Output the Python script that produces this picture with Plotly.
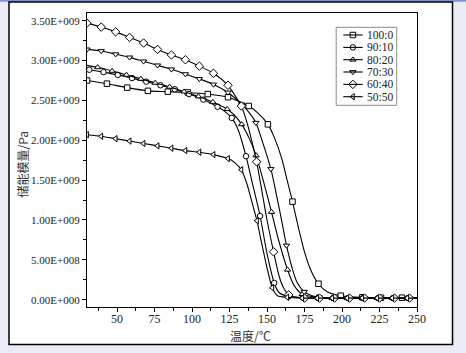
import plotly.graph_objects as go

# ---------------- data (temperature in °C, storage modulus in 1e9 Pa) ----------------
labels = ["100:0", "90:10", "80:20", "70:30", "60:40", "50:50"]
symbols = ["square", "circle", "triangle-up", "triangle-down", "diamond", "triangle-left"]

T_100_0 = [30, 43.3, 56.8, 70.6, 83.9, 97.2, 110.5, 124, 137.8, 144, 150.6, 155, 160, 163, 167, 171, 175, 179, 184.3, 190, 199.2, 213.6, 226, 240, 250]
E_100_0 = [2.75, 2.71, 2.66, 2.62, 2.61, 2.60, 2.58, 2.54, 2.43, 2.34, 2.20, 2.03, 1.76, 1.53, 1.23, 0.90, 0.60, 0.38, 0.20, 0.10, 0.05, 0.03, 0.025, 0.025, 0.025]
M_100_0 = [1, 1, 1, 1, 1, 1, 1, 1, 1, 0, 1, 0, 0, 0, 1, 0, 0, 0, 1, 0, 1, 1, 1, 1, 0]

T_90_10 = [30, 31.5, 41, 50.5, 60, 69.5, 79, 88.5, 98, 107.5, 117, 122, 126.5, 131, 136, 140, 145.4, 150, 154.8, 158, 164.3, 174, 184, 194, 204, 214, 224, 234, 244, 250]
E_90_10 = [2.89, 2.885, 2.855, 2.82, 2.78, 2.735, 2.69, 2.64, 2.58, 2.51, 2.42, 2.36, 2.28, 2.12, 1.80, 1.48, 1.05, 0.58, 0.21, 0.09, 0.04, 0.025, 0.02, 0.02, 0.02, 0.02, 0.02, 0.02, 0.02, 0.02]
M_90_10 = [0, 1, 1, 1, 1, 1, 1, 1, 1, 1, 1, 0, 1, 0, 1, 0, 1, 0, 1, 0, 1, 1, 1, 1, 1, 1, 1, 1, 1, 0]

T_80_20 = [30, 37.1, 46.7, 56.3, 65.9, 75.5, 85.1, 94.7, 104.3, 113.9, 123.5, 128, 133.1, 138, 142.7, 148, 153, 158, 163.7, 168, 173.5, 183.5, 193.5, 203.5, 213.5, 223.5, 233.5, 243.5, 250]
E_80_20 = [2.94, 2.915, 2.87, 2.82, 2.77, 2.72, 2.67, 2.61, 2.55, 2.48, 2.39, 2.32, 2.20, 2.03, 1.81, 1.46, 1.10, 0.73, 0.376, 0.18, 0.07, 0.03, 0.02, 0.02, 0.02, 0.02, 0.02, 0.02, 0.02]
M_80_20 = [0, 1, 1, 1, 1, 1, 1, 1, 1, 1, 1, 0, 1, 0, 1, 0, 1, 0, 1, 0, 1, 1, 1, 1, 1, 1, 1, 1, 0]

T_70_30 = [30, 39.5, 49.1, 58.4, 67.7, 77, 86.3, 95.6, 104.9, 114.3, 124, 133.2, 138, 142.6, 147, 152.6, 157, 160, 163, 167, 170, 174.8, 180, 185, 195, 205, 215, 225, 235, 245, 250]
E_70_30 = [3.14, 3.12, 3.08, 3.04, 2.99, 2.94, 2.89, 2.83, 2.77, 2.70, 2.60, 2.45, 2.35, 2.22, 1.98, 1.64, 1.25, 0.97, 0.68, 0.38, 0.22, 0.10, 0.05, 0.03, 0.02, 0.02, 0.02, 0.02, 0.02, 0.02, 0.02]
M_70_30 = [1, 1, 1, 1, 1, 1, 1, 1, 1, 1, 1, 1, 0, 1, 0, 1, 0, 0, 1, 0, 0, 1, 0, 1, 1, 1, 1, 1, 1, 1, 0]

T_60_40 = [30, 39.5, 49.1, 58.4, 67.7, 77, 86.3, 95.6, 104.9, 114.3, 124, 128, 132.9, 137, 140, 143.1, 147, 150, 154.4, 158, 161, 164.5, 170, 175, 185, 195, 205, 215, 225, 235, 245, 250]
E_60_40 = [3.47, 3.42, 3.36, 3.29, 3.22, 3.14, 3.07, 3.01, 2.93, 2.84, 2.69, 2.58, 2.43, 2.20, 1.98, 1.73, 1.32, 1.00, 0.60, 0.30, 0.15, 0.06, 0.03, 0.02, 0.02, 0.02, 0.02, 0.02, 0.02, 0.02, 0.02, 0.02]
M_60_40 = [1, 1, 1, 1, 1, 1, 1, 1, 1, 1, 1, 0, 1, 0, 0, 1, 0, 0, 1, 0, 0, 1, 0, 1, 1, 1, 1, 1, 1, 1, 1, 0]

T_50_50 = [30, 39.5, 49.1, 58.4, 67.7, 77, 86.3, 95.6, 104.9, 114.3, 124, 128.5, 132.9, 137, 140, 143.3, 147, 150, 153.5, 157, 163.5, 173.5, 183.5, 193.5, 203.5, 213.5, 223.5, 233.5, 243.5, 250]
E_50_50 = [2.07, 2.05, 2.02, 1.99, 1.96, 1.93, 1.90, 1.87, 1.85, 1.82, 1.77, 1.72, 1.63, 1.43, 1.22, 0.99, 0.66, 0.40, 0.15, 0.05, 0.03, 0.02, 0.02, 0.02, 0.02, 0.02, 0.02, 0.02, 0.02, 0.02]
M_50_50 = [1, 1, 1, 1, 1, 1, 1, 1, 1, 1, 1, 0, 1, 0, 0, 1, 0, 0, 1, 0, 1, 1, 1, 1, 1, 1, 1, 1, 1, 0]

y_tickvals = [0, 0.5, 1.0, 1.5, 2.0, 2.5, 3.0, 3.5]
y_ticktext = ["0.00E+000", "5.00E+008", "1.00E+009", "1.50E+009", "2.00E+009", "2.50E+009", "3.00E+009", "3.50E+009"]
x_tickvals = [50, 75, 100, 125, 150, 175, 200, 225, 250]
x_ticktext = ["50", "75", "100", "125", "150", "175", "200", "225", "250"]

series = [
    (T_100_0, E_100_0, M_100_0),
    (T_90_10, E_90_10, M_90_10),
    (T_80_20, E_80_20, M_80_20),
    (T_70_30, E_70_30, M_70_30),
    (T_60_40, E_60_40, M_60_40),
    (T_50_50, E_50_50, M_50_50),
]

# ---------------- layout geometry (pixels) ----------------
W, H = 466, 353
L, R, Tm, B = 87, 49, 13, 46
PW, PH = W - L - R, H - Tm - B
SERIF = "Liberation Serif"
CJK = "Noto Sans CJK SC"


def px(x):
    return (x - L) / PW


def py(y):
    return (H - B - y) / PH


def msize(sym):
    return 6.5 if sym == "diamond" else 5.5


fig = go.Figure()

for (t, e, m), lab, sym in zip(series, labels, symbols):
    fig.add_trace(go.Scatter(
        x=t, y=e, mode="lines", line=dict(color="black", width=1.1, shape="spline", smoothing=0.7),
        showlegend=False, hoverinfo="skip"))
    mt = [ti for ti, mi in zip(t, m) if mi]
    me = [ei for ei, mi in zip(e, m) if mi]
    fig.add_trace(go.Scatter(
        x=mt, y=me, mode="markers",
        marker=dict(symbol=sym, size=msize(sym), color="white", line=dict(color="black", width=1)),
        showlegend=False, hoverinfo="skip"))

# ---------------- custom legend on a pixel-coordinate overlay axis ----------------
leg_y = [35.0, 47.4, 59.7, 72.0, 84.4, 96.7]
shapes = []
annotations = []
for yc, lab, sym in zip(leg_y, labels, symbols):
    shapes.append(dict(type="line", xref="x2", yref="y2", x0=343.3, x1=362.7, y0=yc, y1=yc,
                       line=dict(color="black", width=1.1), layer="above"))
    annotations.append(dict(xref="x2", yref="y2", x=365.0, y=yc, text=lab, showarrow=False,
                            xanchor="left", yanchor="middle",
                            font=dict(family=SERIF, size=11.5, color="#222")))
    fig.add_trace(go.Scatter(
        x=[352.9], y=[yc], xaxis="x2", yaxis="y2", mode="markers",
        marker=dict(symbol=sym, size=msize(sym), color="white", line=dict(color="black", width=1)),
        showlegend=False, hoverinfo="skip"))

shapes.append(dict(type="rect", xref="x2", yref="y2", x0=336.2, x1=396.7, y0=27.3, y1=105.3,
                   line=dict(color="#8a8a8a", width=1), fillcolor="rgba(0,0,0,0)", layer="above"))

# outer white frame and top strip
shapes.insert(0, dict(type="rect", xref="paper", yref="paper", x0=px(9), x1=px(452.5), y0=py(344.5), y1=py(2),
                      line=dict(color="black", width=1.5), fillcolor="white", layer="below"))
shapes.insert(0, dict(type="rect", xref="paper", yref="paper", x0=px(-2), x1=px(468), y0=py(1.8), y1=py(-2),
                      line=dict(width=0), fillcolor="#7f8fd4", layer="below"))

# axis titles
annotations.append(dict(xref="paper", yref="paper", x=px(250), y=py(335.5), text="温度/℃", showarrow=False,
                        xanchor="center", yanchor="middle", font=dict(family=CJK, size=12, color="#333")))
annotations.append(dict(xref="paper", yref="paper", x=px(21.5), y=py(165), text="储能模量/Pa", showarrow=False,
                        textangle=-90, xanchor="center", yanchor="middle",
                        font=dict(family=CJK, size=12, color="#333")))

fig.update_layout(
    width=W, height=H,
    margin=dict(l=L, r=R, t=Tm, b=B, pad=0),
    paper_bgcolor="#e9ecf7",
    plot_bgcolor="white",
    showlegend=False,
    xaxis=dict(range=[30, 250], showline=True, linecolor="black", linewidth=1.3, mirror=True,
               ticks="outside", ticklen=4, tickwidth=1, tickcolor="black", ticklabelstandoff=-4,
               tickvals=x_tickvals, ticktext=x_ticktext, showgrid=False, zeroline=False,
               tickfont=dict(family=SERIF, size=12, color="#222"),
               minor=dict(ticks="outside", ticklen=2.5, tickwidth=1, tickcolor="black", dtick=12.5, tick0=37.5)),
    yaxis=dict(range=[-0.0916, 3.5966], showline=True, linecolor="black", linewidth=1.3, mirror=True,
               ticks="outside", ticklen=4, tickwidth=1, tickcolor="black",
               tickvals=y_tickvals, ticktext=y_ticktext, showgrid=False, zeroline=False,
               tickfont=dict(family=SERIF, size=11, color="#222"),
               minor=dict(ticks="outside", ticklen=2.5, tickwidth=1, tickcolor="black", dtick=0.25, tick0=0.25)),
    xaxis2=dict(overlaying="x", anchor="y2", range=[L, W - R], visible=False, fixedrange=True),
    yaxis2=dict(overlaying="y", anchor="x2", range=[H - B, Tm], visible=False, fixedrange=True),
    shapes=shapes,
    annotations=annotations,
)

fig.write_html("out.html")
